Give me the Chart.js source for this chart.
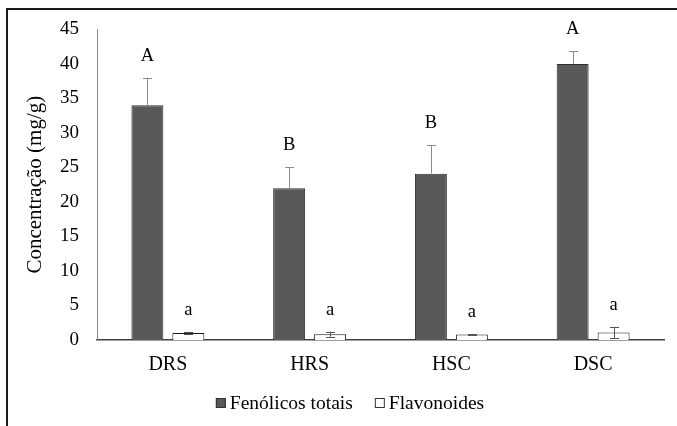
<!DOCTYPE html>
<html>
<head>
<meta charset="utf-8">
<script src="https://cdn.jsdelivr.net/npm/chart.js@4/dist/chart.umd.min.js"></script>
<style>
  html, body { margin: 0; padding: 0; background: #fff; }
  #wrap { width: 677px; height: 426px; }
</style>
</head>
<body>
<div id="wrap"><canvas id="c" width="677" height="426"></canvas></div>
<script>
// Sample groups on the x axis
const categories = ['DRS', 'HRS', 'HSC', 'DSC'];

// Mean concentrations (mg/g) and standard deviations
const fenolicos = [34.0, 22.0, 24.1, 40.0];
const fenolicosErr = [4.0, 3.1, 4.1, 1.8];
const flavonoides = [1.0, 0.85, 0.8, 1.1];
const flavonoidesErr = [0.2, 0.35, 0.1, 0.8];

// Significance letters above each bar
const fenolicosLetters = ['A', 'B', 'B', 'A'];
const flavonoidesLetters = ['a', 'a', 'a', 'a'];

// Value axis ticks
const yTickValues = [0, 5, 10, 15, 20, 25, 30, 35, 40, 45];

const SERIF = "'Liberation Serif', 'Times New Roman', Times, serif";

// Error bars: upward whisker on the filled bars, full whisker on the open bars
const errorBarPlugin = {
  id: 'errorBars',
  afterDatasetsDraw(chart) {
    const ctx = chart.ctx;
    const y = chart.scales.y;
    chart.data.datasets.forEach((ds, di) => {
      const meta = chart.getDatasetMeta(di);
      meta.data.forEach((bar, i) => {
        const v = ds.data[i], e = ds.errors[i];
        const top = y.getPixelForValue(v + e);
        const bot = ds.upperOnly ? y.getPixelForValue(v) : y.getPixelForValue(v - e);
        const x = Math.round(bar.x) + 0.5;
        ctx.save();
        ctx.strokeStyle = ds.errorColor;
        ctx.lineWidth = 1;
        ctx.beginPath();
        ctx.moveTo(x, bot);
        ctx.lineTo(x, top);
        ctx.moveTo(x - 4.5, Math.round(top) + 0.5);
        ctx.lineTo(x + 4.5, Math.round(top) + 0.5);
        if (!ds.upperOnly) {
          ctx.moveTo(x - 4.5, Math.round(bot) + 0.5);
          ctx.lineTo(x + 4.5, Math.round(bot) + 0.5);
        }
        ctx.stroke();
        ctx.restore();
      });
    });
  }
};

// Letters placed above the whisker of each bar
const letterPlugin = {
  id: 'letters',
  afterDatasetsDraw(chart) {
    const ctx = chart.ctx;
    const y = chart.scales.y;
    chart.data.datasets.forEach((ds, di) => {
      const meta = chart.getDatasetMeta(di);
      meta.data.forEach((bar, i) => {
        const top = y.getPixelForValue(ds.data[i] + ds.errors[i]);
        ctx.save();
        ctx.fillStyle = '#000';
        ctx.font = '18.5px ' + SERIF;
        ctx.textAlign = 'center';
        ctx.textBaseline = 'middle';
        ctx.fillText(ds.letters[i], bar.x, top - 22);
        ctx.restore();
      });
    });
  }
};

// Legend row under the axis labels
const legendPlugin = {
  id: 'legendRow',
  afterDraw(chart) {
    const ctx = chart.ctx;
    ctx.save();
    ctx.font = '19.5px ' + SERIF;
    const box = 10, gapText = 4, gapItem = 22;
    const items = chart.data.datasets.map(ds => ({
      text: ds.label, fill: ds.backgroundColor, stroke: '#333'
    }));
    let total = 0;
    items.forEach((it, k) => {
      it.w = box + gapText + ctx.measureText(it.text).width;
      total += it.w + (k ? gapItem : 0);
    });
    let x = 350 - total / 2;
    const cy = 403;
    items.forEach(it => {
      ctx.fillStyle = it.fill;
      ctx.fillRect(x, cy - box / 2, box, box);
      ctx.strokeStyle = it.stroke;
      ctx.lineWidth = 1;
      ctx.strokeRect(x + 0.5, cy - box / 2 + 0.5, box - 1, box - 1);
      ctx.fillStyle = '#000';
      ctx.textBaseline = 'middle';
      ctx.textAlign = 'left';
      ctx.fillText(it.text, x + box + gapText, cy + 1);
      x += it.w + gapItem;
    });
    ctx.restore();
  }
};

// Outer frame along the top and left edges
const framePlugin = {
  id: 'frame',
  afterDraw(chart) {
    const ctx = chart.ctx;
    ctx.save();
    ctx.fillStyle = '#1a1a1a';
    ctx.fillRect(6, 8, chart.width - 6, 2);
    ctx.fillRect(6, 8, 2, chart.height - 8);
    ctx.restore();
  }
};

function build() {
  new Chart(document.getElementById('c'), {
    type: 'bar',
    data: {
      labels: categories,
      datasets: [
        {
          label: 'Fenólicos totais',
          data: fenolicos,
          errors: fenolicosErr,
          letters: fenolicosLetters,
          upperOnly: true,
          errorColor: '#8c8c8c',
          backgroundColor: '#595959',
          borderColor: '#2e2e2e',
          borderWidth: 1,
          categoryPercentage: 0.578,
          barPercentage: 0.78
        },
        {
          label: 'Flavonoides',
          data: flavonoides,
          errors: flavonoidesErr,
          letters: flavonoidesLetters,
          upperOnly: false,
          errorColor: '#555555',
          backgroundColor: '#ffffff',
          borderColor: '#1a1a1a',
          borderWidth: 1,
          categoryPercentage: 0.578,
          barPercentage: 0.78
        }
      ]
    },
    options: {
      responsive: false,
      devicePixelRatio: 1,
      animation: false,
      layout: { padding: { left: 0, top: 28, right: 13, bottom: 0 } },
      plugins: {
        legend: { display: false },
        tooltip: { enabled: false }
      },
      scales: {
        x: {
          grid: { display: false, drawTicks: false },
          border: { display: true, color: '#404040', width: 1.5 },
          ticks: { color: '#000', font: { family: SERIF, size: 20 }, padding: 13 },
          afterFit(scale) { scale.height = 86; }
        },
        y: {
          min: 0,
          max: 45,
          afterBuildTicks(scale) { scale.ticks = yTickValues.map(v => ({ value: v })); },
          grid: { display: false, drawTicks: false },
          border: { display: true, color: '#8a8a8a', width: 1 },
          ticks: { color: '#000', font: { family: SERIF, size: 19 }, padding: 18 },
          title: {
            display: true,
            text: 'Concentração (mg/g)',
            color: '#000',
            font: { family: SERIF, size: 21 },
            padding: { top: 23, bottom: 0 }
          },
          afterFit(scale) { scale.width = 97; }
        }
      }
    },
    plugins: [errorBarPlugin, letterPlugin, legendPlugin, framePlugin]
  });
}

if (document.fonts && document.fonts.load) {
  Promise.all([
    document.fonts.load("18px 'Liberation Serif'"),
    document.fonts.load("18px 'Times New Roman'")
  ]).then(build, build);
} else {
  build();
}
</script>
</body>
</html>
